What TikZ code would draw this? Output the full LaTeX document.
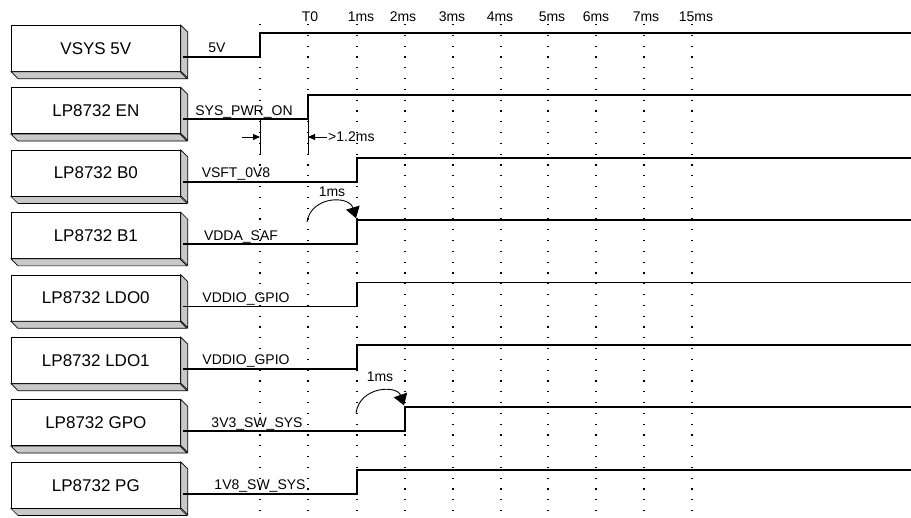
\documentclass[tikz,border=0pt]{standalone}
\usepackage{fontspec}
\setmainfont{Liberation Sans}
\usetikzlibrary{arrows.meta,calc}
\definecolor{boxgray}{RGB}{200,200,200}
\begin{document}
\begin{tikzpicture}[x=1pt,y=-1pt,
  box/.style={draw, line width=0.7pt, fill=white, minimum width=169pt, minimum height=46pt, inner sep=0pt, anchor=north west, font=\fontsize{17}{20}\selectfont},
  side/.style={draw, line width=0.7pt, fill=boxgray},
  sig/.style={line width=1.8pt, line join=miter},
  dotcol/.style={line width=1.3pt, dash pattern=on 1.3pt off 9.5pt},
  siglbl/.style={font=\fontsize{14}{16}\selectfont, anchor=base, inner sep=0pt},
  toplbl/.style={font=\fontsize{14}{16}\selectfont, anchor=base, inner sep=0pt},
  thinln/.style={line width=0.9pt},
  bigtip/.style={-{Triangle[length=11pt,width=14pt]}},
  smalltip/.style={-{Triangle[length=7pt,width=6pt]}}]
\useasboundingbox (0,0) rectangle (911,518);
% dotted time columns
\foreach \x in {260,308,357,405,453,501,548,596,644,692}
  \draw[dotcol] (\x,24) -- (\x,518);
% time labels
\foreach \t/\x [count=\k] in {T0/310,1ms/361,2ms/403,3ms/452,4ms/500,5ms/552,6ms/596,7ms/646,15ms/696}
  \node[toplbl] (t\k) at (\x,22) {\t};
% rows
\foreach \nm/\lab/\lx/\rx [count=\i from 0] in {
  VSYS 5V/5V/217/260,
  LP8732 EN/SYS\_PWR\_ON/244/308,
  LP8732 B0/VSFT\_0V8/236/357,
  LP8732 B1/VDDA\_SAF/241/357,
  LP8732 LDO0/VDDIO\_GPIO/246/357,
  LP8732 LDO1/VDDIO\_GPIO/246/357,
  LP8732 GPO/3V3\_SW\_SYS/257/405,
  LP8732 PG/1V8\_SW\_SYS/260/357}{
  \pgfmathsetmacro\ytop{25+62.4*\i}
  \pgfmathsetmacro\ylow{\ytop+32}
  \pgfmathsetmacro\yhigh{\ytop+8}
  \node[box] (b\i) at (11,\ytop) {\nm};
  \filldraw[side] (b\i.north east) -- ++(7,7) -- ++(0,46) -- ++(-7,-7) -- cycle;
  \filldraw[side] (b\i.south west) -- ++(7,7) -- ++(169,0) -- ++(-7,-7) -- cycle;
  \coordinate (s\i) at (183,\ylow);
  \coordinate (l\i) at (\rx,\ylow);
  \coordinate (r\i) at (\rx,\yhigh);
  \coordinate (e\i) at (911,\yhigh);
  \draw[sig] (s\i) -- (l\i) -- (r\i) -- (e\i);
  \node[siglbl] (n\i) at (\lx,\ylow-4) {\lab};
}
% EN timing annotation
\coordinate (enA) at (260,155);
\coordinate (enB) at (308,155);
\draw[thinln] (260,119) -- (enA);
\draw[thinln] (l1) -- (enB);
\coordinate (arA) at (242,137);
\coordinate (arAe) at (260,137);
\coordinate (arB) at (327,137);
\coordinate (arBe) at (308,137);
\draw[thinln,smalltip] (arA) -- (arAe);
\draw[thinln,smalltip] (arB) -- (arBe);
\node[anchor=west, inner sep=0pt, font=\fontsize{14}{16}\selectfont] (gt) at (328,137) {>1.2ms};
% 1ms arcs
\coordinate (c1) at (307,222);
\draw[thinln,bigtip] (c1) .. controls (311,196) and (349,195) .. ($(r3)+(-1,-2)$);
\node[toplbl] (m1) at (332,197) {1ms};
\coordinate (c2) at (356,413);
\draw[thinln,bigtip] (c2) .. controls (360,386) and (397,385) .. ($(r6)+(-1,-2)$);
\node[toplbl] (m2) at (380,382) {1ms};
\end{tikzpicture}
\end{document}
